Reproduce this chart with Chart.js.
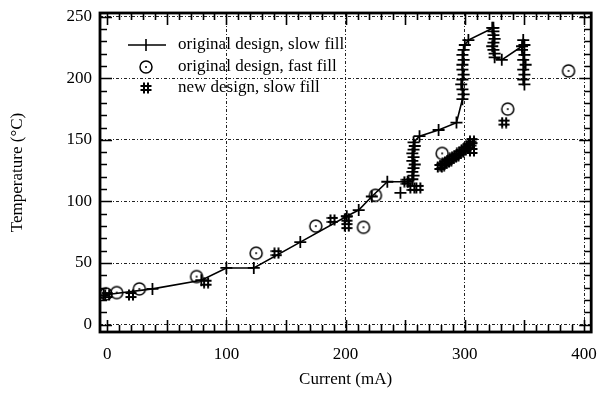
<!DOCTYPE html>
<html>
<head>
<meta charset="utf-8">
<script src="https://cdn.jsdelivr.net/npm/chart.js@4.4.0/dist/chart.umd.min.js"></script>
<style>
  html, body { margin: 0; padding: 0; background: #fff; }
</style>
</head>
<body>
<canvas id="chart" width="599" height="403"></canvas>
<script>
// original design, slow fill (line with + markers)
const slowX = [-3, 38, 79, 100, 123, 162, 201, 211, 222, 235, 252,
  256, 257, 256, 257, 258, 256, 257, 256, 257, 258, 257,
  262, 278, 293,
  298, 299, 298, 297, 298, 299, 298, 298, 299, 298, 299, 300,
  303, 324,
  323, 324, 324, 325, 324, 323, 324, 325, 325,
  331, 348,
  349, 350, 348, 350, 349, 351, 349, 350, 349, 350];
const slowY = [24, 29, 36, 46, 46, 67, 88, 93, 104, 116, 116,
  118, 121, 124, 127, 130, 133, 136, 139, 142, 145, 148,
  153, 158, 164,
  183, 187, 191, 195, 199, 203, 207, 211, 215, 219, 223, 227,
  231, 241,
  241, 238, 235, 232, 229, 226, 223, 220, 217,
  215, 226,
  231, 227, 223, 219, 215, 211, 207, 203, 199, 195];
// a stray + reading off the line
const slowStrayX = [246];
const slowStrayY = [107];

// original design, fast fill (circles)
const fastX = [-1, 8, 27, 75, 125, 175, 215, 225, 281, 336, 387];
const fastY = [25, 26, 29, 39, 58, 80, 79, 105, 139, 175, 206];

// new design, slow fill (# markers)
const newX = [0, 20, 83, 142, 189, 201, 201, 251, 256, 261,
  279, 281, 283, 285, 287, 289, 291, 293, 295, 297, 299, 301, 303, 305, 306,
  306, 333];
const newY = [24, 24, 34, 58, 85, 86, 80, 116, 111, 111,
  128, 129, 131, 132, 133, 135, 136, 137, 139, 140, 142, 143, 145, 147, 149,
  141, 164];

const xTicks = [0, 100, 200, 300, 400];
const yTicks = [0, 50, 100, 150, 200, 250];
const labels = ["original design, slow fill", "original design, fast fill", "new design, slow fill"];

const FONT = "'Liberation Serif', 'DejaVu Serif', serif";

function pts(xs, ys) {
  return xs.map((x, i) => ({ x: x, y: ys[i] }));
}

function hashMarker() {
  const c = document.createElement("canvas");
  c.width = 12; c.height = 12;
  const g = c.getContext("2d");
  g.strokeStyle = "#000";
  g.lineWidth = 2;
  g.beginPath();
  g.moveTo(4, 0.5); g.lineTo(4, 11.5);
  g.moveTo(8, 0.5); g.lineTo(8, 11.5);
  g.moveTo(0.5, 4); g.lineTo(11.5, 4);
  g.moveTo(0.5, 8); g.lineTo(11.5, 8);
  g.stroke();
  return c;
}

function circleMarker() {
  const c = document.createElement("canvas");
  c.width = 16; c.height = 16;
  const g = c.getContext("2d");
  g.strokeStyle = "#000";
  g.lineWidth = 1.5;
  g.beginPath();
  g.arc(8, 8, 6, 0, Math.PI * 2);
  g.stroke();
  g.fillStyle = "#000";
  g.beginPath();
  g.arc(8, 8, 1, 0, Math.PI * 2);
  g.fill();
  return c;
}

const HASH = hashMarker();
const CIRC = circleMarker();

// box frame with inward ticks on all four sides
const framePlugin = {
  id: "frame",
  afterDraw(chart) {
    const { ctx, chartArea: a, scales: { x, y } } = chart;
    ctx.save();
    ctx.strokeStyle = "#000";
    ctx.lineWidth = 1.6;
    ctx.beginPath();
    for (let v = 0; v <= 400; v += 10) {
      const px = Math.round(x.getPixelForValue(v)) + 0.5;
      const len = v % 50 === 0 ? 12 : 7;
      ctx.moveTo(px, a.bottom); ctx.lineTo(px, a.bottom - len);
      ctx.moveTo(px, a.top); ctx.lineTo(px, a.top + len);
    }
    for (let v = 0; v <= 250; v += 10) {
      const py = Math.round(y.getPixelForValue(v)) + 0.5;
      const len = v % 50 === 0 ? 12 : 7;
      ctx.moveTo(a.left, py); ctx.lineTo(a.left + len, py);
      ctx.moveTo(a.right, py); ctx.lineTo(a.right - len, py);
    }
    ctx.stroke();
    ctx.lineWidth = 2.8;
    ctx.strokeRect(a.left, a.top, a.right - a.left, a.bottom - a.top);
    ctx.restore();
  }
};

// legend inside the plot, top left
const legendPlugin = {
  id: "innerLegend",
  afterDatasetsDraw(chart) {
    const { ctx, chartArea: a } = chart;
    const mx = a.left + 46, tx = a.left + 78;
    const rows = [a.top + 32, a.top + 54, a.top + 75];
    ctx.save();
    ctx.strokeStyle = "#000";
    ctx.lineWidth = 1.6;
    ctx.beginPath();
    ctx.moveTo(mx - 18, rows[0]); ctx.lineTo(mx + 20, rows[0]);
    ctx.moveTo(mx, rows[0] - 6); ctx.lineTo(mx, rows[0] + 6);
    ctx.stroke();
    ctx.drawImage(CIRC, mx - 8, rows[1] - 8);
    ctx.drawImage(HASH, mx - 6, rows[2] - 6);
    ctx.fillStyle = "#000";
    ctx.font = "17px " + FONT;
    ctx.textBaseline = "middle";
    labels.forEach((t, i) => ctx.fillText(t, tx, rows[i]));
    ctx.restore();
  }
};

new Chart(document.getElementById("chart"), {
  type: "scatter",
  data: {
    datasets: [
      {
        label: labels[0],
        data: pts(slowX, slowY),
        showLine: true,
        borderColor: "#000",
        borderWidth: 1.6,
        pointStyle: "cross",
        pointRadius: 6,
        pointBorderWidth: 1.8,
        pointBorderColor: "#000"
      },
      {
        label: "stray",
        data: pts(slowStrayX, slowStrayY),
        pointStyle: "cross",
        pointRadius: 6,
        pointBorderWidth: 1.8,
        pointBorderColor: "#000"
      },
      {
        label: labels[1],
        data: pts(fastX, fastY),
        pointStyle: CIRC
      },
      {
        label: labels[2],
        data: pts(newX, newY),
        pointStyle: HASH
      }
    ]
  },
  options: {
    responsive: false,
    animation: false,
    layout: { padding: { top: 13, right: 6, left: 0, bottom: 0 } },
    plugins: { legend: { display: false }, tooltip: { enabled: false } },
    scales: {
      x: {
        type: "linear",
        min: -6,
        max: 406,
        afterFit: s => { s.height = 71; s.paddingLeft = 0; s.paddingRight = 0; },
        afterBuildTicks: s => { s.ticks = xTicks.map(v => ({ value: v })); },
        ticks: { padding: 12, color: "#000", font: { family: FONT, size: 17 } },
        grid: {
          drawTicks: false,
          color: c => (c.tick && c.tick.value > 0) ? "#222" : "rgba(0,0,0,0)",
          lineWidth: 1
        },
        border: { display: false, dash: [3, 2, 1, 2] },
        title: {
          display: true,
          text: "Current (mA)",
          color: "#000",
          font: { family: FONT, size: 17 },
          padding: { top: 0, bottom: 13 }
        }
      },
      y: {
        type: "linear",
        min: -6,
        max: 253,
        afterFit: s => { s.width = 100; s.paddingTop = 0; s.paddingBottom = 0; },
        afterBuildTicks: s => { s.ticks = yTicks.map(v => ({ value: v })); },
        ticks: { padding: 8, color: "#000", font: { family: FONT, size: 17 } },
        grid: {
          drawTicks: false,
          color: "#222",
          lineWidth: 1
        },
        border: { display: false, dash: [3, 2, 1, 2] },
        title: {
          display: true,
          text: "Temperature (°C)",
          color: "#000",
          font: { family: FONT, size: 17 },
          padding: { top: 7, bottom: 0 }
        }
      }
    }
  },
  plugins: [framePlugin, legendPlugin]
});
</script>
</body>
</html>
